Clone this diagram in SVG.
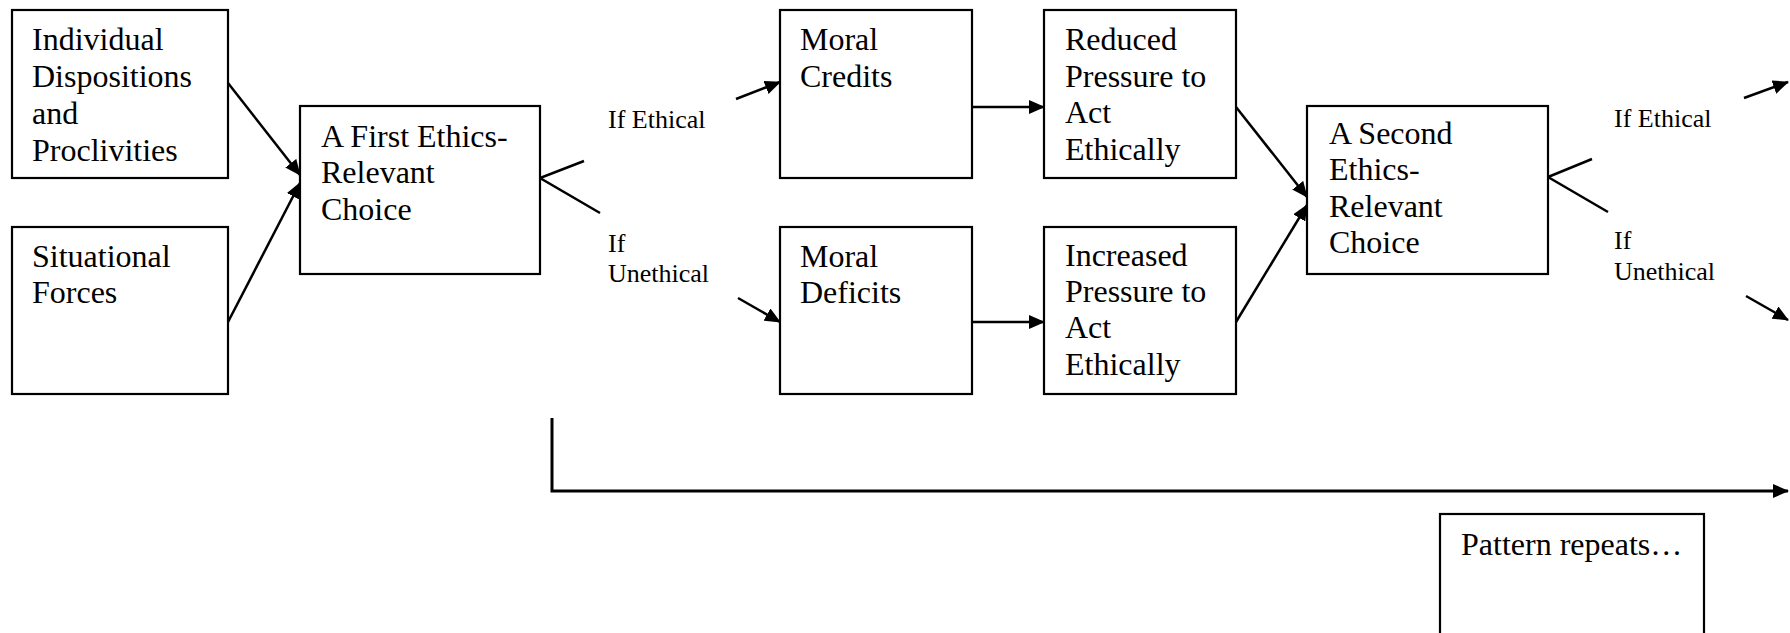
<svg xmlns="http://www.w3.org/2000/svg" width="1790" height="633" viewBox="0 0 1790 633">
<style>
.box{fill:#fff;stroke:#000;stroke-width:2.2}
.t{font-family:"Liberation Serif","Times New Roman",serif;font-size:32px;fill:#000}
.s{font-family:"Liberation Serif","Times New Roman",serif;font-size:26px;fill:#000}
.c{fill:none;stroke:#000;stroke-width:2.5}
.a{marker-end:url(#ah)}
</style>
<defs>
<marker id="ah" markerUnits="userSpaceOnUse" markerWidth="16" markerHeight="14" refX="15" refY="7" orient="auto" viewBox="0 0 16 14">
<path d="M0,0 L16,7 L0,14 z" fill="#000"/>
</marker>
</defs>
<rect width="1790" height="633" fill="#fff"/>
<g id="connectors">
<line class="c a" x1="228" y1="83" x2="300" y2="175"/>
<line class="c a" x1="228" y1="322" x2="300" y2="183"/>
<polyline class="c" points="584,161 540,178 600,213"/>
<line class="c a" x1="736" y1="99" x2="780" y2="82"/>
<line class="c a" x1="738" y1="298" x2="780" y2="322"/>
<line class="c a" x1="972" y1="107" x2="1044" y2="107"/>
<line class="c a" x1="972" y1="322" x2="1044" y2="322"/>
<line class="c a" x1="1236" y1="107" x2="1307" y2="197"/>
<line class="c a" x1="1236" y1="322" x2="1307" y2="205"/>
<polyline class="c" points="1592,159 1548,177 1608,212"/>
<line class="c a" x1="1744" y1="98" x2="1788" y2="82"/>
<line class="c a" x1="1746" y1="296" x2="1788" y2="320"/>
<path class="c a" d="M552,418 V491 H1788" style="stroke-width:3"/>
<text class="s" x="608" y="128">If Ethical</text>
<text class="s" x="608" y="252">If</text>
<text class="s" x="608" y="282">Unethical</text>
<text class="s" x="1614" y="127">If Ethical</text>
<text class="s" x="1614" y="249">If</text>
<text class="s" x="1614" y="280">Unethical</text>
</g>
<g id="n1">
<rect class="box" x="12" y="10" width="216" height="168"/>
<text class="t" x="32" y="50">Individual</text>
<text class="t" x="32" y="87">Dispositions</text>
<text class="t" x="32" y="124">and</text>
<text class="t" x="32" y="161">Proclivities</text>
</g>
<g id="n2">
<rect class="box" x="12" y="227" width="216" height="167"/>
<text class="t" x="32" y="267">Situational</text>
<text class="t" x="32" y="303">Forces</text>
</g>
<g id="n3">
<rect class="box" x="300" y="106" width="240" height="168"/>
<text class="t" x="321" y="147">A First Ethics-</text>
<text class="t" x="321" y="183">Relevant</text>
<text class="t" x="321" y="220">Choice</text>
</g>
<g id="n4">
<rect class="box" x="780" y="10" width="192" height="168"/>
<text class="t" x="800" y="50">Moral</text>
<text class="t" x="800" y="87">Credits</text>
</g>
<g id="n5">
<rect class="box" x="780" y="227" width="192" height="167"/>
<text class="t" x="800" y="267">Moral</text>
<text class="t" x="800" y="303">Deficits</text>
</g>
<g id="n6">
<rect class="box" x="1044" y="10" width="192" height="168"/>
<text class="t" x="1065" y="50">Reduced</text>
<text class="t" x="1065" y="87">Pressure to</text>
<text class="t" x="1065" y="123">Act</text>
<text class="t" x="1065" y="160">Ethically</text>
</g>
<g id="n7">
<rect class="box" x="1044" y="227" width="192" height="167"/>
<text class="t" x="1065" y="266">Increased</text>
<text class="t" x="1065" y="302">Pressure to</text>
<text class="t" x="1065" y="338">Act</text>
<text class="t" x="1065" y="375">Ethically</text>
</g>
<g id="n8">
<rect class="box" x="1307" y="106" width="241" height="168"/>
<text class="t" x="1329" y="144">A Second</text>
<text class="t" x="1329" y="180">Ethics-</text>
<text class="t" x="1329" y="217">Relevant</text>
<text class="t" x="1329" y="253">Choice</text>
</g>
<g id="n9">
<rect class="box" x="1440" y="514" width="264" height="130"/>
<text class="t" x="1461" y="555">Pattern repeats…</text>
</g>
</svg>
